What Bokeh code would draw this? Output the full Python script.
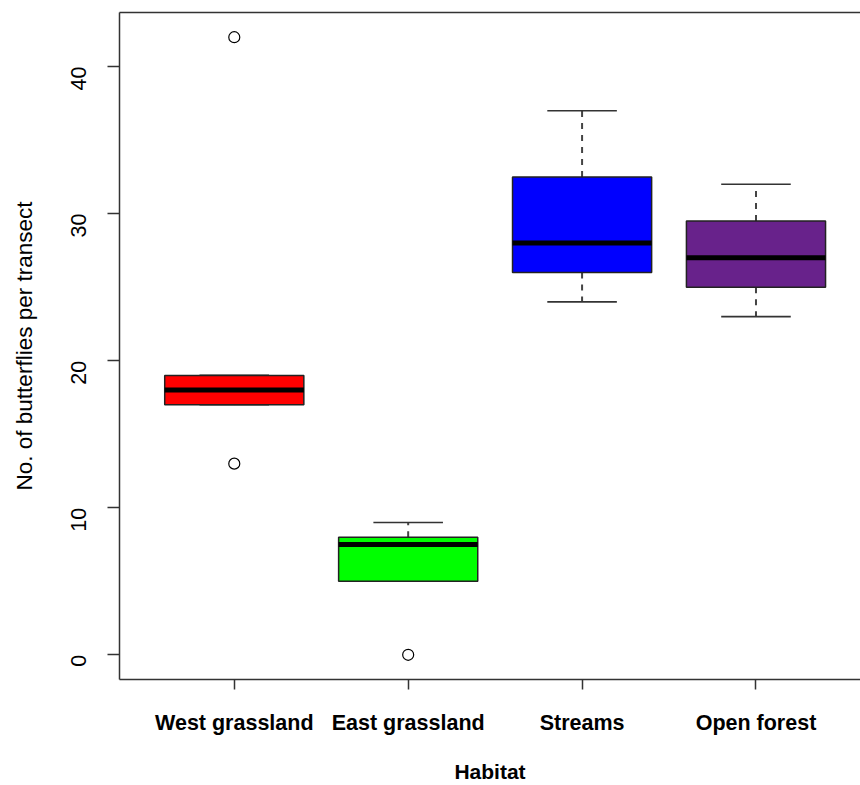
import math
from bokeh.plotting import figure
from bokeh.models import Range1d, FixedTicker, LinearAxis, ColumnDataSource
from bokeh.embed import file_html
from bokeh.resources import INLINE

# ---- data ----
habitats = ["West grassland", "East grassland", "Streams", "Open forest"]
lower_whisker = [17, 5, 24, 23]
q1 = [17, 5, 26, 25]
median = [18, 7.5, 28, 27]
q3 = [19, 8, 32.5, 29.5]
upper_whisker = [19, 9, 37, 32]
box_colors = ["#FF0000", "#00FF00", "#0000FF", "#68228B"]
outlier_habitat = ["West grassland", "West grassland", "East grassland"]
outlier_value = [42, 13, 0]
y_ticks = [0, 10, 20, 30, 40]

pos = list(range(1, len(habitats) + 1))
box_w = 0.8
cap_w = 0.4

src = ColumnDataSource(dict(
    x=pos, lw=lower_whisker, q1=q1, med=median, q3=q3, uw=upper_whisker,
    color=box_colors,
    x0=[x - box_w / 2 for x in pos], x1=[x + box_w / 2 for x in pos],
    c0=[x - cap_w / 2 for x in pos], c1=[x + cap_w / 2 for x in pos],
))
out_src = ColumnDataSource(dict(
    x=[habitats.index(h) + 1 for h in outlier_habitat], y=outlier_value))

p = figure(width=860, height=785, output_backend="svg", toolbar_location=None,
           x_range=Range1d(0.34, 4.601), y_range=Range1d(-1.68, 43.68),
           min_border_left=119, min_border_right=0, min_border_top=12,
           min_border_bottom=105, background_fill_color="white",
           border_fill_color="white")
p.outline_line_color = None
p.xgrid.visible = False
p.ygrid.visible = False

# whiskers (dashed)
p.segment(x0="x", y0="q3", x1="x", y1="uw", source=src, line_color="#444444",
          line_width=2, line_dash="6 6")
p.segment(x0="x", y0="q1", x1="x", y1="lw", source=src, line_color="#444444",
          line_width=2, line_dash="6 6")
# caps
p.segment(x0="c0", y0="uw", x1="c1", y1="uw", source=src, line_color="#333333", line_width=1.6)
p.segment(x0="c0", y0="lw", x1="c1", y1="lw", source=src, line_color="#333333", line_width=1.6)
# boxes
p.vbar(x="x", width=box_w, bottom="q1", top="q3", source=src, fill_color="color",
       line_color="#222222", line_width=1.5)
# medians
p.segment(x0="x0", y0="med", x1="x1", y1="med", source=src, line_color="black", line_width=5)
# outliers
p.scatter(x="x", y="y", source=out_src, size=11, fill_color="white",
          line_color="black", line_width=1.2, marker="circle")

font = "Liberation Sans"
# x axis
xa = p.xaxis[0]
xa.ticker = FixedTicker(ticks=pos)
xa.major_label_overrides = {x: h for x, h in zip(pos, habitats)}
xa.major_label_text_font = font
xa.major_label_text_font_style = "bold"
xa.major_label_text_font_size = "21.5px"
xa.major_label_text_color = "black"
xa.major_label_standoff = 21
xa.major_tick_out = 10
xa.major_tick_in = 0
xa.minor_tick_line_color = None
xa.axis_line_color = "#333333"
xa.axis_line_width = 1.5
xa.major_tick_line_color = "#333333"
xa.major_tick_line_width = 1.5
xa.axis_label = "Habitat"
xa.axis_label_text_font = font
xa.axis_label_text_font_style = "bold"
xa.axis_label_text_font_size = "21px"
xa.axis_label_text_color = "black"
xa.axis_label_standoff = 22

# y axis
ya = p.yaxis[0]
ya.ticker = FixedTicker(ticks=y_ticks)
ya.major_label_orientation = math.pi / 2
ya.major_label_text_font = font
ya.major_label_text_font_size = "21.5px"
ya.major_label_text_color = "black"
ya.major_label_standoff = 29
ya.major_tick_out = 12
ya.major_tick_in = 0
ya.minor_tick_line_color = None
ya.axis_line_color = "#333333"
ya.axis_line_width = 1.5
ya.major_tick_line_color = "#333333"
ya.major_tick_line_width = 1.5
ya.axis_label = "No. of butterflies per transect"
ya.axis_label_text_font = font
ya.axis_label_text_font_style = "normal"
ya.axis_label_text_font_size = "22.5px"
ya.axis_label_text_color = "black"
ya.axis_label_standoff = 24

# top border line
top = LinearAxis(ticker=FixedTicker(ticks=[]), major_label_text_font_size="0px",
                 axis_line_color="#333333", axis_line_width=1.5,
                 major_tick_line_color=None, minor_tick_line_color=None)
p.add_layout(top, "above")

open("out.html", "w").write(file_html(p, INLINE))
